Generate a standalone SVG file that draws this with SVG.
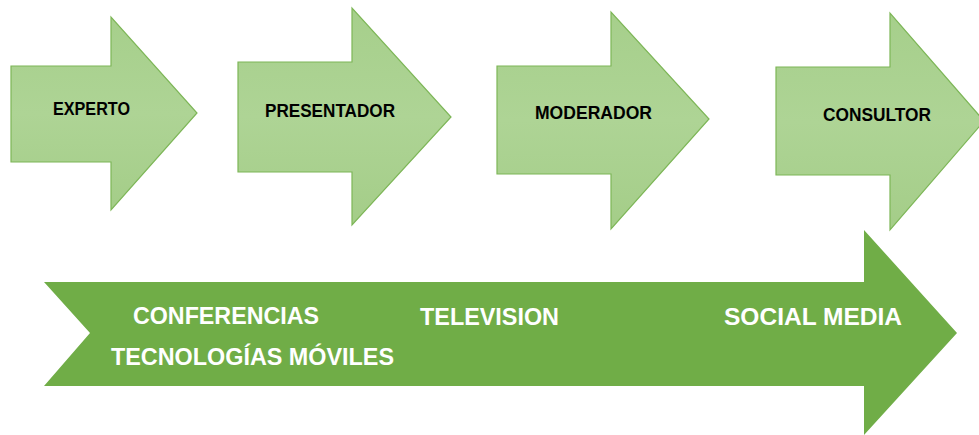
<svg xmlns="http://www.w3.org/2000/svg" width="979" height="435" viewBox="0 0 979 435">
<defs>
<linearGradient id="g" x1="0" y1="0" x2="0" y2="1">
<stop offset="0" stop-color="#A6CF8B"/>
<stop offset="0.5" stop-color="#AED495"/>
<stop offset="1" stop-color="#A4CD88"/>
</linearGradient>
</defs>
<style>
.top{fill:url(#g);stroke:#7DB657;stroke-width:1.2;stroke-linejoin:miter}
.big{fill:#70AD47}
.tl{font-family:"Liberation Sans",Arial,sans-serif;font-weight:bold;font-size:18px;fill:#000}
.bl{font-family:"Liberation Sans",Arial,sans-serif;font-weight:bold;font-size:24px;fill:#fff}
</style>
<rect width="979" height="435" fill="#fff"/>
<g id="timeline">
<polygon class="big" points="44,282 864,282 864,230 957,333 864,435 864,386 44,386 90,333"/>
<text class="bl" x="133" y="324" textLength="186" lengthAdjust="spacingAndGlyphs">CONFERENCIAS</text>
<text class="bl" x="111" y="365" textLength="283" lengthAdjust="spacingAndGlyphs">TECNOLOGÍAS MÓVILES</text>
<text class="bl" x="420" y="325" textLength="139" lengthAdjust="spacingAndGlyphs">TELEVISION</text>
<text class="bl" x="724" y="325" textLength="178" lengthAdjust="spacingAndGlyphs">SOCIAL MEDIA</text>
</g>
<g id="experto">
<polygon class="top" points="11,66 111,66 111,17 197,113 111,210 111,162 11,162"/>
<text class="tl" x="53" y="115" textLength="77" lengthAdjust="spacingAndGlyphs">EXPERTO</text>
</g>
<g id="presentador">
<polygon class="top" points="238,62 352,62 352,8 451,117 352,225 352,172 238,172"/>
<text class="tl" x="265" y="117" textLength="130" lengthAdjust="spacingAndGlyphs">PRESENTADOR</text>
</g>
<g id="moderador">
<polygon class="top" points="497,66 611,66 611,12 709,119 611,229 611,174 497,174"/>
<text class="tl" x="535" y="119" textLength="117" lengthAdjust="spacingAndGlyphs">MODERADOR</text>
</g>
<g id="consultor">
<polygon class="top" points="776,67 890,67 890,13 984,121 890,230 890,175 776,175"/>
<text class="tl" x="823" y="121" textLength="108" lengthAdjust="spacingAndGlyphs">CONSULTOR</text>
</g>
<g id="connectors"></g>
</svg>
